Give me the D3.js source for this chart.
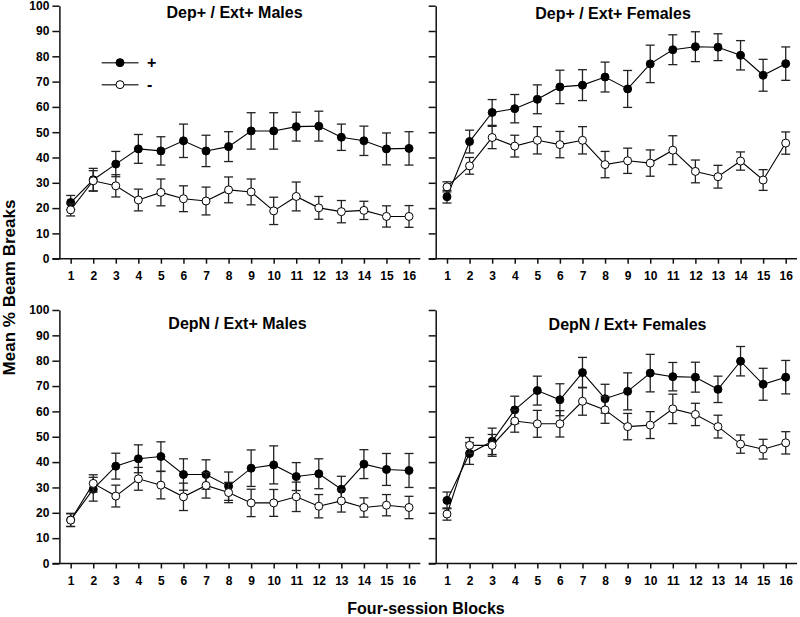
<!DOCTYPE html>
<html>
<head>
<meta charset="utf-8">
<script src="https://cdn.jsdelivr.net/npm/d3@7"></script>
<style>
  html, body { margin: 0; padding: 0; background: #fff; }
  svg { display: block; }
  text { font-family: "Liberation Sans", Arial, sans-serif; font-weight: bold; fill: #000; }
</style>
</head>
<body>
<svg id="chart" width="800" height="617"></svg>
<script>
// ---------- DATA ----------
const blocks = [1, 2, 3, 4, 5, 6, 7, 8, 9, 10, 11, 12, 13, 14, 15, 16];
const yTickValues = [0, 10, 20, 30, 40, 50, 60, 70, 80, 90, 100];
const panelTitles = ["Dep+ / Ext+ Males", "Dep+ / Ext+ Females", "DepN / Ext+ Males", "DepN / Ext+ Females"];
const legendLabels = ["+", "-"];
const yAxisTitle = "Mean % Beam Breaks";
const xAxisTitle = "Four-session Blocks";

// Dep+ / Ext+ Males
const depMalesPlus     = [22.2, 31.2, 37.4, 43.4, 42.6, 46.6, 42.6, 44.3, 50.5, 50.5, 52.2, 52.4, 48.0, 46.6, 43.4, 43.6];
const depMalesPlusErr  = [2.8, 4.5, 5.0, 5.7, 5.6, 6.6, 6.2, 5.9, 7.2, 7.2, 5.7, 5.9, 5.2, 5.8, 6.3, 6.6];
const depMalesMinus    = [19.3, 30.8, 28.8, 23.2, 26.2, 23.7, 22.8, 27.2, 26.4, 18.9, 24.6, 20.1, 18.6, 19.1, 16.7, 16.7];
const depMalesMinusErr = [2.4, 4.0, 4.4, 4.3, 5.3, 5.1, 5.5, 5.1, 5.1, 5.4, 5.7, 4.5, 4.4, 3.6, 4.2, 4.3];

// Dep+ / Ext+ Females
const depFemalesPlus     = [24.5, 46.3, 57.8, 59.3, 63.0, 67.9, 68.6, 71.8, 67.1, 77.0, 82.6, 83.8, 83.6, 80.4, 72.5, 77.1];
const depFemalesPlusErr  = [2.5, 4.5, 5.1, 5.6, 5.7, 6.6, 6.1, 5.9, 7.3, 7.4, 5.9, 5.9, 5.3, 5.8, 6.3, 6.6];
const depFemalesMinus    = [28.4, 36.7, 47.9, 44.5, 46.8, 45.1, 46.8, 37.2, 38.7, 37.8, 42.9, 34.5, 32.4, 38.6, 31.1, 45.7];
const depFemalesMinusErr = [2.0, 3.3, 4.4, 4.3, 5.4, 5.2, 5.4, 5.2, 5.0, 5.2, 5.7, 4.5, 4.5, 3.6, 4.1, 4.4];

// DepN / Ext+ Males
const depNMalesPlus     = [17.2, 29.3, 38.4, 41.3, 42.2, 35.1, 35.1, 30.5, 37.6, 38.9, 34.3, 35.4, 29.3, 39.2, 37.1, 36.7];
const depNMalesPlusErr  = [2.6, 4.7, 5.1, 5.5, 5.8, 6.2, 5.8, 5.6, 7.2, 7.5, 5.5, 5.9, 5.1, 5.7, 6.3, 6.7];
const depNMalesMinus    = [17.1, 31.6, 26.6, 33.4, 30.9, 26.3, 30.8, 28.0, 23.9, 23.9, 26.3, 22.6, 24.7, 22.1, 23.0, 22.1];
const depNMalesMinusErr = [2.5, 3.4, 4.3, 4.5, 5.4, 5.4, 5.0, 4.0, 5.4, 5.3, 5.8, 4.6, 4.4, 3.8, 4.2, 4.4];

// DepN / Ext+ Females
const depNFemalesPlus     = [24.9, 43.4, 48.2, 60.6, 68.2, 64.6, 75.3, 65.0, 67.9, 75.1, 73.7, 73.5, 68.7, 79.8, 70.7, 73.5];
const depNFemalesPlusErr  = [3.3, 4.3, 5.2, 5.4, 5.7, 6.3, 6.0, 5.7, 7.3, 7.4, 5.6, 5.9, 5.2, 5.8, 6.3, 6.6];
const depNFemalesMinus    = [19.5, 46.6, 46.6, 56.2, 55.1, 55.1, 64.0, 60.6, 54.0, 54.6, 61.0, 58.8, 54.0, 47.1, 45.1, 47.6];
const depNFemalesMinusErr = [2.4, 3.1, 4.3, 4.4, 5.3, 5.2, 5.5, 5.3, 5.2, 5.3, 5.8, 4.4, 4.5, 3.6, 3.9, 4.4];

// ---------- LAYOUT ----------
const svg = d3.select("#chart");

const panels = [
  { title: panelTitles[0], x0: 59.4, x1: 420.3, yTop: 5.7, yBot: 258.7, yLabels: true,
    tx: 234.5, ty: 17.5, plus: depMalesPlus, plusErr: depMalesPlusErr, minus: depMalesMinus, minusErr: depMalesMinusErr, legend: true },
  { title: panelTitles[1], x0: 435.7, x1: 797, yTop: 5.7, yBot: 258.7, yLabels: false,
    tx: 613, ty: 18.5, plus: depFemalesPlus, plusErr: depFemalesPlusErr, minus: depFemalesMinus, minusErr: depFemalesMinusErr },
  { title: panelTitles[2], x0: 59.4, x1: 420.3, yTop: 310, yBot: 563.5, yLabels: true,
    tx: 237.5, ty: 329, plus: depNMalesPlus, plusErr: depNMalesPlusErr, minus: depNMalesMinus, minusErr: depNMalesMinusErr },
  { title: panelTitles[3], x0: 435.7, x1: 797, yTop: 310, yBot: 563.5, yLabels: false,
    tx: 627.5, ty: 330, plus: depNFemalesPlus, plusErr: depNFemalesPlusErr, minus: depNFemalesMinus, minusErr: depNFemalesMinusErr }
];

const axisColor = "#111";
const errColor = "#222";
const capHalf = 4.5;
const markerR = 4;

panels.forEach(p => {
  const x = d3.scaleLinear().domain([0.5, 16.5]).range([p.x0, p.x1]);
  const y = d3.scaleLinear().domain([0, 100]).range([p.yBot, p.yTop]);
  const g = svg.append("g");

  // Y axis
  const yAxis = d3.axisLeft(y).tickValues(yTickValues).tickSize(7).tickSizeOuter(0).tickPadding(3)
    .tickFormat(p.yLabels ? d3.format("d") : () => "");
  const ya = g.append("g").attr("transform", `translate(${p.x0},0)`).call(yAxis);
  ya.selectAll("path, line").attr("stroke", axisColor).attr("stroke-width", 1.5);
  ya.selectAll("text").style("font-size", "12px").attr("fill", "#000");

  // X axis
  const xAxis = d3.axisBottom(x).tickValues(blocks).tickSize(5).tickSizeOuter(0).tickPadding(8)
    .tickFormat(d3.format("d"));
  const xa = g.append("g").attr("transform", `translate(0,${p.yBot})`).call(xAxis);
  xa.selectAll("path, line").attr("stroke", axisColor).attr("stroke-width", 1.5);
  xa.selectAll("text").style("font-size", "12px").attr("fill", "#000");
  xa.selectAll(".domain").attr("d", `M${p.x0 - 7},0H${p.x1}`);

  // Title
  g.append("text").attr("x", p.tx).attr("y", p.ty).attr("text-anchor", "middle")
    .style("font-size", "16px").text(p.title);

  const line = d3.line().x((d, i) => x(blocks[i])).y(d => y(d));

  const series = [
    { vals: p.plus, errs: p.plusErr, fill: "#000" },
    { vals: p.minus, errs: p.minusErr, fill: "#fff" }
  ];

  series.forEach(s => {
    g.append("path").datum(s.vals).attr("d", line)
      .attr("fill", "none").attr("stroke", "#000").attr("stroke-width", 1.1);

    const eb = g.append("g").attr("stroke", errColor).attr("stroke-width", 1.3).attr("fill", "none");
    s.vals.forEach((v, i) => {
      const cx = x(blocks[i]);
      const yt = y(v + s.errs[i]), yb = y(v - s.errs[i]);
      eb.append("line").attr("x1", cx).attr("x2", cx).attr("y1", yt).attr("y2", yb);
      eb.append("line").attr("x1", cx - capHalf).attr("x2", cx + capHalf).attr("y1", yt).attr("y2", yt);
      eb.append("line").attr("x1", cx - capHalf).attr("x2", cx + capHalf).attr("y1", yb).attr("y2", yb);
    });

    g.selectAll(null).data(s.vals).enter().append("circle")
      .attr("cx", (d, i) => x(blocks[i])).attr("cy", d => y(d)).attr("r", markerR)
      .attr("fill", s.fill).attr("stroke", "#000").attr("stroke-width", 1);
  });

  if (p.legend) {
    const legendRows = [
      { label: legendLabels[0], fill: "#000", value: 77.5 },
      { label: legendLabels[1], fill: "#fff", value: 68.8 }
    ];
    legendRows.forEach(r => {
      const ly = y(r.value);
      g.append("line").attr("x1", 101.7).attr("x2", 138.5).attr("y1", ly).attr("y2", ly)
        .attr("stroke", "#444").attr("stroke-width", 1.5);
      g.append("circle").attr("cx", 120).attr("cy", ly).attr("r", markerR)
        .attr("fill", r.fill).attr("stroke", "#000").attr("stroke-width", 1);
      g.append("text").attr("x", 147).attr("y", ly + 5.5).style("font-size", "16px").text(r.label);
    });
  }
});

// Axis titles
svg.append("text").attr("transform", "translate(15,287.5) rotate(-90)")
  .attr("text-anchor", "middle").style("font-size", "17px").text(yAxisTitle);
svg.append("text").attr("x", 426).attr("y", 614).attr("text-anchor", "middle")
  .style("font-size", "16px").text(xAxisTitle);
</script>
</body>
</html>
